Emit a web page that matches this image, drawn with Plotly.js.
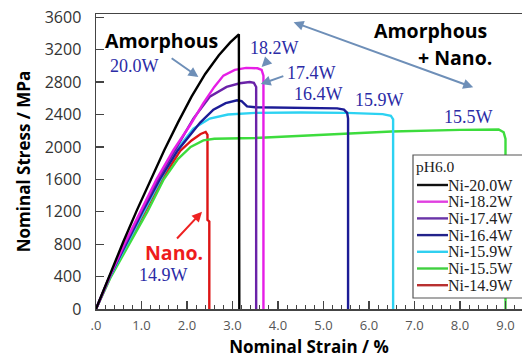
<!DOCTYPE html>
<html>
<head>
<meta charset="utf-8">
<script src="https://cdn.plot.ly/plotly-3.0.1.min.js"></script>
<style>html,body{margin:0;padding:0;background:#fff;}#chart{width:522px;height:358px;}</style>
</head>
<body>
<div id="chart"></div>
<script>
// ---- data ----
const seriesNames = ["Ni-20.0W", "Ni-18.2W", "Ni-17.4W", "Ni-16.4W", "Ni-15.9W", "Ni-15.5W", "Ni-14.9W"];
const seriesColors = ["#000000", "#e61ee6", "#6a22a8", "#1c1c96", "#2cd2f2", "#3ddc3d", "#dd1515"];
const legendColors = ["#111111", "#e040e0", "#6a34a8", "#22228a", "#30d0f0", "#40d040", "#b83030"];

const strain20 = [0, 0.3, 0.6, 0.9, 1.2, 1.5, 1.8, 2.1, 2.4, 2.7, 2.95, 3.14, 3.15];
const stress20 = [0, 420, 830, 1220, 1600, 1960, 2300, 2620, 2900, 3130, 3290, 3390, 0];

const strain182 = [0, 0.3, 0.62, 0.97, 1.33, 1.7, 2.07, 2.36, 2.6, 2.8, 3.05, 3.3, 3.55, 3.64, 3.68, 3.68];
const stress182 = [0, 400, 800, 1200, 1600, 1960, 2270, 2540, 2740, 2880, 2950, 2975, 2970, 2950, 2880, 0];

const strain174 = [0, 0.3, 0.64, 0.99, 1.36, 1.75, 2.14, 2.5, 2.87, 3.16, 3.38, 3.47, 3.52, 3.52];
const stress174 = [0, 400, 800, 1200, 1600, 1980, 2350, 2620, 2740, 2785, 2800, 2790, 2740, 0];

const strain164 = [0, 0.3, 0.66, 1.02, 1.4, 1.8, 2.29, 2.58, 2.85, 3.1, 3.2, 3.32, 3.5, 4.5, 5.3, 5.45, 5.52, 5.54, 5.54];
const stress164 = [0, 400, 800, 1200, 1600, 1960, 2300, 2460, 2540, 2575, 2565, 2500, 2490, 2485, 2475, 2460, 2420, 2350, 0];

const strain159 = [0, 0.31, 0.68, 1.05, 1.42, 1.8, 2.14, 2.5, 2.9, 3.5, 4.5, 5.5, 6.3, 6.48, 6.53, 6.53];
const stress159 = [0, 400, 800, 1200, 1600, 1980, 2226, 2350, 2400, 2420, 2425, 2420, 2405, 2385, 2340, 0];

const strain155 = [0, 0.33, 0.73, 1.13, 1.49, 1.8, 2.08, 2.36, 2.6, 3.5, 5.0, 6.5, 8.0, 8.85, 8.96, 9.0, 9.0];
const stress155 = [0, 400, 800, 1200, 1600, 1850, 2000, 2080, 2100, 2110, 2150, 2190, 2210, 2215, 2180, 2100, 0];

const strain149 = [0, 0.32, 0.7, 1.08, 1.45, 1.85, 2.1, 2.3, 2.41, 2.45, 2.45, 2.49, 2.49];
const stress149 = [0, 400, 800, 1200, 1600, 1950, 2080, 2160, 2185, 2150, 1100, 1080, 0];

const xTickVals = [0, 1, 2, 3, 4, 5, 6, 7, 8, 9];
const xTickText = [".0", "1.0", "2.0", "3.0", "4.0", "5.0", "6.0", "7.0", "8.0", "9.0"];
const yTickVals = [0, 400, 800, 1200, 1600, 2000, 2400, 2800, 3200, 3600];
const legendTitle = "pH6.0";

// ---- build traces ----
const xs = [strain20, strain182, strain174, strain164, strain159, strain155, strain149];
const ys = [stress20, stress182, stress174, stress164, stress159, stress155, stress149];
const traces = [];
for (let i = xs.length - 1; i >= 0; i--) {
  traces.push({
    x: xs[i], y: ys[i], type: "scatter", mode: "lines", name: seriesNames[i],
    line: {color: seriesColors[i], width: 2.4}, showlegend: false, hoverinfo: "skip"
  });
}

// ---- layout geometry ----
const W = 522, H = 358, L = 96, R = 0, T = 14, B = 49;
const pw = W - L - R, ph = H - T - B;
const px2paperX = p => (p - L) / pw;
const px2paperY = p => (H - B - p) / ph;

const sansBold = {family: "Open Sans, sans-serif", size: 19.5, color: "#000"};
const serifBlue = {family: "Liberation Serif, serif", size: 18, color: "#2b2ba6"};
const arrowColor = "#6e8fb8";

const annotations = [
  {x: 1.45, y: 3318, text: "<b>Amorphous</b>", showarrow: false, borderpad: 0, font: sansBold},
  {x: 7.36, y: 3434, text: "<b>Amorphous</b>", showarrow: false, borderpad: 0, font: sansBold},
  {x: 7.89, y: 3104, text: "<b>+ Nano.</b>", showarrow: false, borderpad: 0, font: sansBold},
  {x: 1.71, y: 700, text: "<b>Nano.</b>", showarrow: false, borderpad: 0, font: {family: "Open Sans, sans-serif", size: 19.5, color: "#ee1c1c"}},
  {x: 0.84, y: 3000, text: "20.0W", showarrow: false, borderpad: 0, font: serifBlue},
  {x: 3.93, y: 3215, text: "18.2W", showarrow: false, borderpad: 0, font: serifBlue},
  {x: 4.74, y: 2911, text: "17.4W", showarrow: false, borderpad: 0, font: serifBlue},
  {x: 4.88, y: 2657, text: "16.4W", showarrow: false, borderpad: 0, font: serifBlue},
  {x: 6.22, y: 2575, text: "15.9W", showarrow: false, borderpad: 0, font: serifBlue},
  {x: 8.18, y: 2370, text: "15.5W", showarrow: false, borderpad: 0, font: serifBlue},
  {x: 1.49, y: 415, text: "14.9W", showarrow: false, borderpad: 0, font: serifBlue},
  // arrows
  {x: 2.25, y: 2862, ax: 1.63, ay: 3107, axref: "x", ayref: "y", text: "", showarrow: true, arrowhead: 2, arrowsize: 1, arrowwidth: 2, arrowcolor: arrowColor},
  {x: 3.64, y: 2985, ax: 3.82, ay: 3088, axref: "x", ayref: "y", text: "", showarrow: true, arrowhead: 2, arrowsize: 1, arrowwidth: 2, arrowcolor: arrowColor},
  {x: 3.62, y: 2775, ax: 4.15, ay: 2880, axref: "x", ayref: "y", text: "", showarrow: true, arrowhead: 2, arrowsize: 1, arrowwidth: 2, arrowcolor: arrowColor},
  {x: 2.33, y: 1200, ax: 1.75, ay: 852, axref: "x", ayref: "y", text: "", showarrow: true, arrowhead: 2, arrowsize: 1, arrowwidth: 2, arrowcolor: "#ee2222"},
  {x: 8.29, y: 2735, ax: 4.31, ay: 3545, axref: "x", ayref: "y", text: "", showarrow: true, arrowhead: 2, startarrowhead: 2, arrowside: "end+start", arrowsize: 1, arrowwidth: 2, arrowcolor: arrowColor}
];

// ---- legend box (drawn from the series names/colours) ----
const shapes = [];
const legLeft = 413, legTop = 155, legBottom = 298, legRowStart = 185, legRowStep = 16.7;
shapes.push({type: "rect", xref: "paper", yref: "paper",
  x0: px2paperX(legLeft), x1: px2paperX(540), y0: px2paperY(legBottom), y1: px2paperY(legTop),
  line: {color: "#555", width: 1.2}, fillcolor: "#fff", layer: "above"});
annotations.push({xref: "paper", yref: "paper", x: px2paperX(415), y: px2paperY(166), xanchor: "left", yanchor: "middle",
  text: legendTitle, showarrow: false, borderpad: 0, font: {family: "Liberation Serif, serif", size: 15.5, color: "#222"}});
for (let i = 0; i < seriesNames.length; i++) {
  const yy = legRowStart + i * legRowStep;
  shapes.push({type: "line", xref: "paper", yref: "paper", x0: px2paperX(417), x1: px2paperX(448),
    y0: px2paperY(yy), y1: px2paperY(yy), line: {color: legendColors[i], width: 2.4}, layer: "above"});
  annotations.push({xref: "paper", yref: "paper", x: px2paperX(447), y: px2paperY(yy), xanchor: "left", yanchor: "middle",
    text: seriesNames[i], showarrow: false, borderpad: 0, font: {family: "Liberation Serif, serif", size: 16, color: "#222"}});
}

const layout = {
  width: W, height: H,
  margin: {l: L, r: R, t: T, b: B, pad: 0},
  paper_bgcolor: "#fff", plot_bgcolor: "#fff",
  showlegend: false,
  xaxis: {
    range: [0, pw / 45.5], showgrid: false, zeroline: false,
    showline: true, linecolor: "#444", linewidth: 1.5, mirror: true,
    ticks: "inside", ticklen: 8, tickcolor: "#444", tickwidth: 1.2,
    tickvals: xTickVals, ticktext: xTickText,
    minor: {dtick: 0.2, ticks: "inside", ticklen: 4, tickcolor: "#444", tickwidth: 1},
    tickfont: {family: "Open Sans, sans-serif", size: 13, color: "#555"},
    ticklabelstandoff: 4,
    title: {text: "<b>Nominal Strain / %</b>", font: {family: "Open Sans, sans-serif", size: 17, color: "#000"}, standoff: 8}
  },
  yaxis: {
    range: [0, 3640], showgrid: false, zeroline: false,
    showline: true, linecolor: "#444", linewidth: 1.5,
    ticks: "inside", ticklen: 8, tickcolor: "#444", tickwidth: 1.2,
    tickvals: yTickVals,
    tickfont: {family: "Open Sans, sans-serif", size: 16, color: "#333"},
    ticklabelstandoff: 10,
    title: {text: "<b>Nominal Stress / MPa</b>", font: {family: "Open Sans, sans-serif", size: 17, color: "#000"}, standoff: 10}
  },
  annotations: annotations,
  shapes: shapes
};

Plotly.newPlot("chart", traces, layout, {staticPlot: true, displayModeBar: false});
</script>
</body>
</html>
